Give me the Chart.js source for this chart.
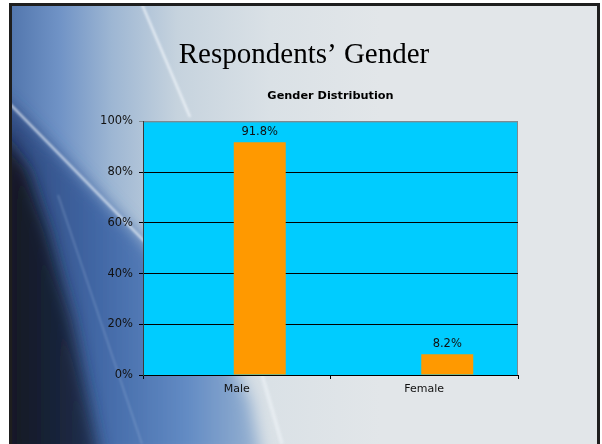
<!DOCTYPE html>
<html>
<head>
<meta charset="utf-8">
<script src="https://cdn.jsdelivr.net/npm/chart.js@4"></script>
<style>
  html, body { margin: 0; padding: 0; width: 602px; height: 444px; overflow: hidden; background: #ffffff; }
  #bg { position: absolute; left: 0; top: 0; }
  #wrap { position: absolute; left: 0; top: 0; width: 602px; height: 444px; }
</style>
</head>
<body>
<svg id="bg" width="602" height="444" xmlns="http://www.w3.org/2000/svg">
  <defs>
    <clipPath id="clip"><rect x="12" y="6" width="585" height="440"/></clipPath>
    <linearGradient id="base" gradientUnits="userSpaceOnUse" x1="12" y1="0" x2="380" y2="0">
      <stop offset="0" stop-color="#5377ae"/>
      <stop offset="0.13" stop-color="#7093c6"/>
      <stop offset="0.27" stop-color="#9db6d3"/>
      <stop offset="0.45" stop-color="#c6d3de"/>
      <stop offset="0.7" stop-color="#dae1e6"/>
      <stop offset="1" stop-color="#e2e6e9"/>
    </linearGradient>
    <linearGradient id="blue" gradientUnits="userSpaceOnUse" x1="12" y1="0" x2="262" y2="0">
      <stop offset="0" stop-color="#2f4a80"/>
      <stop offset="0.35" stop-color="#4268a6"/>
      <stop offset="0.7" stop-color="#628bc4"/>
      <stop offset="1" stop-color="#9ab4d2"/>
    </linearGradient>
    <linearGradient id="dark" gradientUnits="userSpaceOnUse" x1="12" y1="0" x2="110" y2="0">
      <stop offset="0" stop-color="#131824"/>
      <stop offset="0.6" stop-color="#1b2740"/>
      <stop offset="1" stop-color="#283c64"/>
    </linearGradient>
    <filter id="soft" x="-20%" y="-20%" width="140%" height="140%"><feGaussianBlur stdDeviation="8"/></filter>
    <filter id="glow" x="-20%" y="-20%" width="140%" height="140%"><feGaussianBlur stdDeviation="1.2"/></filter>
  </defs>
  <g clip-path="url(#clip)">
    <rect x="0" y="0" width="602" height="444" fill="url(#base)"/>
    <polygon points="0,95 33,127 143,240 210,320 250,400 262,460 0,460" fill="url(#blue)" filter="url(#soft)"/>
    <polygon points="0,130 28,170 48,230 72,320 100,460 0,460" fill="url(#dark)" filter="url(#soft)"/>
    <line x1="10" y1="104" x2="150" y2="247" stroke="#e8f0f8" stroke-width="2.5" opacity="0.75" filter="url(#glow)"/>
    <line x1="141" y1="2" x2="190" y2="117" stroke="#f4f8fc" stroke-width="2.5" opacity="0.7" filter="url(#glow)"/>
    <line x1="58" y1="195" x2="142" y2="444" stroke="#9fb8dc" stroke-width="1.2" opacity="0.45" filter="url(#glow)"/>
    <line x1="262" y1="375" x2="282" y2="444" stroke="#eef3f7" stroke-width="4" opacity="0.6" filter="url(#glow)"/>
  </g>
  <rect x="10.5" y="4.5" width="588" height="460" fill="none" stroke="#1e1e1e" stroke-width="3"/>
</svg>
<div id="wrap"><canvas id="c" width="602" height="444"></canvas></div>
<script>
const categories = ['Male', 'Female'];
const genderShare = [91.8, 8.2];
const spacerSeries = [null, null];
const yTicks = [0, 20, 40, 60, 80, 100];
const slideTitle = 'Respondents\u2019 Gender';
const chartTitle = 'Gender Distribution';

const plotBackground = {
  id: 'plotBackground',
  beforeDraw(chart) {
    const {ctx, chartArea: a} = chart;
    ctx.save();
    ctx.fillStyle = '#00CCFF';
    ctx.fillRect(a.left, a.top, a.right - a.left, a.bottom - a.top);
    ctx.strokeStyle = '#7f8a90';
    ctx.lineWidth = 1;
    ctx.beginPath();
    ctx.moveTo(a.left, a.top + 0.5);
    ctx.lineTo(a.right - 0.5, a.top + 0.5);
    ctx.lineTo(a.right - 0.5, a.bottom);
    ctx.stroke();
    ctx.restore();
  }
};

const valueLabels = {
  id: 'valueLabels',
  afterDatasetsDraw(chart) {
    const {ctx} = chart;
    const meta = chart.getDatasetMeta(1);
    ctx.save();
    ctx.font = '11.5px "DejaVu Sans", Verdana, sans-serif';
    ctx.fillStyle = '#111111';
    ctx.textAlign = 'center';
    ctx.textBaseline = 'alphabetic';
    meta.data.forEach((bar, i) => {
      ctx.fillText(genderShare[i].toFixed(1) + '%', bar.x, bar.y - 7);
    });
    ctx.restore();
  }
};

new Chart(document.getElementById('c'), {
  type: 'bar',
  data: {
    labels: categories,
    datasets: [
      { label: 'spacer', data: spacerSeries, backgroundColor: 'rgba(0,0,0,0)' },
      { label: 'Share', data: genderShare, backgroundColor: '#FF9900', borderWidth: 0 }
    ]
  },
  options: {
    responsive: false,
    animation: false,
    categoryPercentage: 0.4907,
    barPercentage: 1.13,
    layout: { padding: { left: 90, right: 84, top: 0, bottom: 0 } },
    plugins: {
      legend: { display: false },
      tooltip: { enabled: false },
      title: {
        display: true,
        text: slideTitle,
        color: '#000000',
        font: { family: '"Liberation Serif", "Times New Roman", serif', size: 29, weight: 'normal', lineHeight: 1.2 },
        padding: { top: 38, bottom: 0 }
      },
      subtitle: {
        display: true,
        fullSize: false,
        text: chartTitle,
        color: '#000000',
        font: { family: '"DejaVu Sans", Verdana, sans-serif', size: 11.3, weight: 'bold', lineHeight: 1.2 },
        padding: { top: 16, bottom: 19 }
      }
    },
    scales: {
      x: {
        offset: true,
        grid: { display: true, drawOnChartArea: false, drawTicks: true, tickLength: 4, color: '#000000', offset: true },
        border: { display: true, color: '#000000', width: 1 },
        ticks: { color: '#111111', padding: 4, font: { family: '"DejaVu Sans", Verdana, sans-serif', size: 11 } },
        afterFit(scale) { scale.height = 69; }
      },
      y: {
        min: 0,
        max: 100,
        afterBuildTicks(scale) { scale.ticks = yTicks.map(v => ({ value: v })); },
        grid: {
          color: (c) => (c.tick && c.tick.value === 100 ? '#7f8a90' : '#000000'),
          lineWidth: 1, drawTicks: true, tickLength: 4
        },
        border: { display: true, color: '#3a3a3a', width: 1 },
        ticks: {
          color: '#111111', padding: 6,
          font: { family: '"DejaVu Sans", Verdana, sans-serif', size: 11.5 },
          callback: (v) => v + '%'
        },
        afterFit(scale) { scale.width = 53; }
      }
    }
  },
  plugins: [plotBackground, valueLabels]
});
</script>
</body>
</html>
